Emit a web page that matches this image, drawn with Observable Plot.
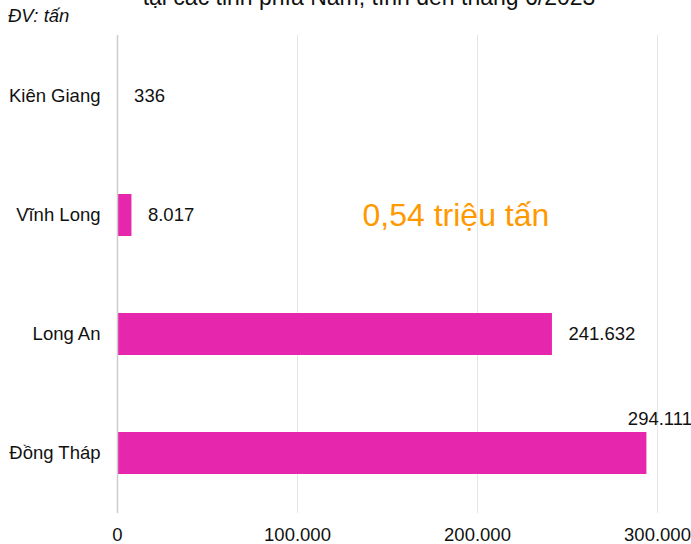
<!DOCTYPE html>
<html>
<head>
<meta charset="utf-8">
<script src="https://cdn.jsdelivr.net/npm/d3@7"></script>
<script src="https://cdn.jsdelivr.net/npm/@observablehq/plot@0.6"></script>
<style>
  body { margin: 0; background: #fff; font-family: Arial, "Liberation Sans", sans-serif; }
  #wrap { position: relative; width: 691px; height: 544px; overflow: hidden; }
  #head { position: relative; height: 33px; overflow: hidden; }
  #title { position: absolute; left: 0; width: 738px; top: -14px; line-height: 23px; font-size: 23px; text-align: center; color: #111; white-space: nowrap; }
  #unit { position: absolute; left: 8px; top: 6px; font-size: 18.5px; font-style: italic; color: #111; line-height: 20px; }
</style>
</head>
<body>
<div id="wrap">
  <div id="head">
    <div id="title">tại các tỉnh phía Nam, tính đến tháng 6/2023</div>
    <div id="unit">ĐV: tấn</div>
  </div>
  <div id="chart"></div>
</div>
<script>
const provinces = ["Kiên Giang", "Vĩnh Long", "Long An", "Đồng Tháp"];
const values = [336, 8017, 241632, 294111];
const tickValues = [0, 100000, 200000, 300000];
const annotationText = "0,54 triệu tấn";
const annotationX = 188000;
const annotationRow = "Vĩnh Long";

const data = provinces.map((p, i) => ({province: p, value: values[i]}));
const fmt = v => d3.format(",")(v).replace(/,/g, ".");

const chart = Plot.plot({
  width: 691,
  height: 511,
  marginLeft: 117,
  marginRight: 34,
  marginTop: 2,
  marginBottom: 31,
  style: {fontFamily: "Arial, 'Liberation Sans', sans-serif", fontSize: "18.5px", color: "#111", background: "#fff"},
  x: {domain: [0, 300000], ticks: tickValues, tickFormat: fmt, label: null},
  y: {domain: provinces, paddingInner: 0.65, paddingOuter: 0.325, label: null},
  marks: [
    Plot.ruleX(tickValues.slice(1), {stroke: "#e6e6e6", strokeWidth: 1}),
    Plot.barX(data, {x: "value", y: "province", fill: "#e627ae"}),
    Plot.ruleX([0], {stroke: "#cccccc", strokeWidth: 1.5}),
    Plot.axisX({ticks: tickValues, tickFormat: fmt, tickSize: 0, tickPadding: 14, fontSize: 18.5, label: null}),
    Plot.axisY({tickSize: 0, tickPadding: 17, fontSize: 18.5, label: null}),
    Plot.text(data.filter(d => d.province !== "Đồng Tháp"), {x: "value", y: "province", text: d => fmt(d.value), textAnchor: "start", dx: 16, fontSize: 18.5, fill: "#111"}),
    Plot.text(data.filter(d => d.province === "Đồng Tháp"), {x: "value", y: "province", text: d => fmt(d.value), textAnchor: "middle", dx: 13, dy: -34, fontSize: 18.5, fill: "#111"}),
    Plot.text([annotationText], {x: annotationX, y: [annotationRow], text: d => d, textAnchor: "middle", fontSize: 32, fill: "#ff9900"})
  ]
});
document.getElementById("chart").appendChild(chart);
</script>
</body>
</html>
